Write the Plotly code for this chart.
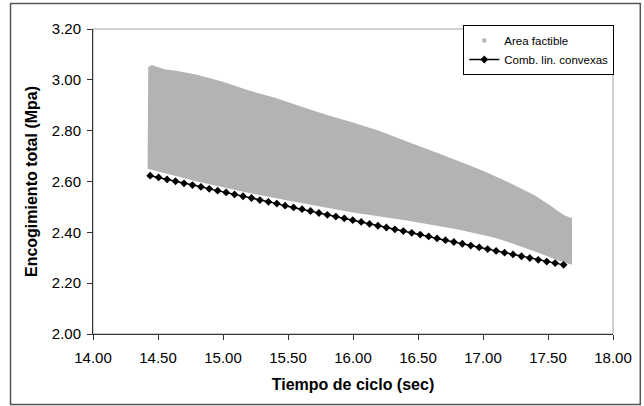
import plotly.graph_objects as go

# Feasible region outline: upper edge (left to right), then lower edge (right to left)
area_upper_x = [14.420, 14.425, 14.45, 14.55, 14.65, 14.80, 15.00, 15.20, 15.40, 15.60,
                15.80, 16.00, 16.20, 16.40, 16.60, 16.80, 17.00, 17.20, 17.40, 17.52,
                17.62, 17.685]
area_upper_y = [2.652, 3.050, 3.058, 3.042, 3.035, 3.020, 2.992, 2.958, 2.930, 2.895,
                2.862, 2.832, 2.800, 2.760, 2.722, 2.683, 2.642, 2.596, 2.545, 2.505,
                2.468, 2.455]
area_lower_x = [17.685, 17.60, 17.40, 17.10, 16.80, 16.40, 16.00, 15.60, 15.20, 14.80, 14.42]
area_lower_y = [2.272, 2.285, 2.325, 2.378, 2.412, 2.448, 2.478, 2.515, 2.555, 2.600, 2.650]

# Convex linear combinations (cycle time, total shrinkage)
comb_x = [14.440, 14.505, 14.570, 14.635, 14.700, 14.765, 14.830, 14.894, 14.959, 15.024,
          15.089, 15.154, 15.219, 15.284, 15.349, 15.414, 15.478, 15.543, 15.608, 15.673,
          15.738, 15.803, 15.868, 15.933, 15.998, 16.063, 16.127, 16.192, 16.257, 16.322,
          16.387, 16.452, 16.517, 16.582, 16.647, 16.711, 16.776, 16.841, 16.906, 16.971,
          17.036, 17.101, 17.166, 17.231, 17.296, 17.360, 17.425, 17.490, 17.555, 17.620]
comb_y = [2.623, 2.616, 2.608, 2.601, 2.593, 2.586, 2.579, 2.571, 2.564, 2.557,
          2.549, 2.542, 2.535, 2.527, 2.520, 2.513, 2.505, 2.498, 2.491, 2.484,
          2.476, 2.469, 2.462, 2.455, 2.448, 2.441, 2.433, 2.426, 2.419, 2.412,
          2.405, 2.398, 2.391, 2.384, 2.376, 2.369, 2.362, 2.355, 2.348, 2.341,
          2.334, 2.327, 2.320, 2.313, 2.306, 2.299, 2.292, 2.285, 2.279, 2.272]

x_ticks = [14.0, 14.5, 15.0, 15.5, 16.0, 16.5, 17.0, 17.5, 18.0]
y_ticks = [2.0, 2.2, 2.4, 2.6, 2.8, 3.0, 3.2]

AREA_GRAY = "#b3b3b3"
FONT = "Liberation Sans, Arial, sans-serif"

fig = go.Figure()

fig.add_trace(go.Scatter(
    x=area_upper_x + area_lower_x,
    y=area_upper_y + area_lower_y,
    mode="none", fill="toself", fillcolor=AREA_GRAY,
    legendgroup="area", showlegend=False, hoverinfo="skip",
))
fig.add_trace(go.Scatter(
    x=[None], y=[None], mode="markers", name="Area factible",
    legendgroup="area",
    marker=dict(symbol="square", size=4, color=AREA_GRAY),
))
fig.add_trace(go.Scatter(
    x=comb_x, y=comb_y, mode="lines+markers", name="Comb. lin. convexas",
    line=dict(color="black", width=1.5),
    marker=dict(symbol="diamond", size=6, color="black"),
))

L, R, T, B = 92.5, 612.7, 29, 334
W, H = 644, 406
pw, ph = R - L, B - T

def px_x(p):
    return (p - L) / pw

def px_y(p):
    return (B - p) / ph

fig.update_layout(
    width=W, height=H, autosize=False,
    margin=dict(l=L, r=W - R, t=T, b=H - B, pad=0),
    paper_bgcolor="white", plot_bgcolor="white",
    font=dict(family=FONT, color="black", size=15),
    showlegend=True,
    legend=dict(
        x=px_x(614), y=px_y(25), xanchor="right", yanchor="top",
        bgcolor="white", bordercolor="black", borderwidth=1,
        font=dict(family=FONT, size=11.5, color="black"),
        itemwidth=30, tracegroupgap=0,
    ),
    shapes=[
        # plot area frame (top and right edges)
        dict(type="rect", xref="paper", yref="paper", x0=0, x1=1, y0=0, y1=1,
             line=dict(color="#a0a0a0", width=1), layer="below"),
        # outer chart frame
        dict(type="rect", xref="paper", yref="paper",
             x0=px_x(10), x1=px_x(640), y0=px_y(404.5), y1=px_y(3.5),
             line=dict(color="#555555", width=1.5), layer="below"),
    ],
)

fig.update_xaxes(
    range=[14, 18], tickvals=x_ticks, tickformat=".2f",
    showgrid=False, zeroline=False, showline=True, linecolor="#333333", linewidth=1,
    ticks="outside", ticklen=5, tickcolor="#333333", ticklabelstandoff=5,
    tickfont=dict(size=15),
    title=dict(text="<b>Tiempo de ciclo (sec)</b>", font=dict(size=16), standoff=13),
)
fig.update_yaxes(
    range=[2, 3.2], tickvals=y_ticks, tickformat=".2f",
    showgrid=False, zeroline=False, showline=True, linecolor="#333333", linewidth=1,
    ticks="outside", ticklen=5, tickcolor="#333333", ticklabelstandoff=3,
    tickfont=dict(size=15),
    title=dict(text="<b>Encogimiento total (Mpa)</b>", font=dict(size=16), standoff=10),
)

fig.write_html("out.html")
